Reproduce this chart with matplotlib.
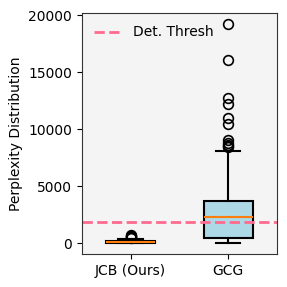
import matplotlib.pyplot as plt

# box statistics
labels = ["JCB (Ours)", "GCG"]
q1 = [20, 470]
med = [100, 2310]
q3 = [200, 3650]
whislo = [0, 10]
whishi = [400, 8070]
outliers = [
    [450, 500, 550, 600, 650, 700],
    [8400, 8500, 8600, 8800, 9030, 10440, 10940, 12190, 12690, 16050, 19210],
]
threshold = 1870


def make_stats():
    stats = []
    for i in range(len(labels)):
        stats.append(dict(label=labels[i], q1=q1[i], med=med[i], q3=q3[i],
                          whislo=whislo[i], whishi=whishi[i], fliers=outliers[i]))
    return stats


fig, ax = plt.subplots(figsize=(2.87, 2.87), dpi=100)
ax.set_facecolor("#f4f4f4")

ax.bxp(make_stats(), positions=[1, 2], widths=0.5, patch_artist=True,
       boxprops=dict(facecolor="lightblue", edgecolor="black", linewidth=1.5),
       medianprops=dict(color="#ff7f0e", linewidth=1.5),
       whiskerprops=dict(linewidth=1.5), capprops=dict(linewidth=1.5),
       flierprops=dict(marker="o", markerfacecolor="none", markeredgecolor="black",
                       markersize=7, markeredgewidth=1.2))

ax.axhline(threshold, color="#ff6b8e", linestyle="--", linewidth=2, label="Det. Thresh")
ax.set_xlim(0.5, 2.5)
ax.set_ylim(-960, 20200)
ax.set_ylabel("Perplexity Distribution")
ax.legend(loc="upper left", frameon=False)
for s in ax.spines.values():
    s.set_color("#333333")

fig.subplots_adjust(left=0.285, right=0.965, top=0.955, bottom=0.115)
fig.savefig("out.png")
